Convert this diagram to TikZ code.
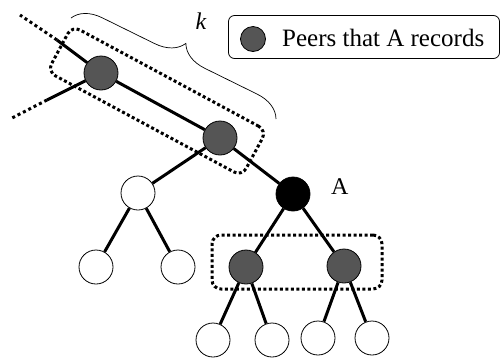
\documentclass[tikz,border=0pt]{standalone}
\usepackage{fontspec}
\setmainfont{Liberation Serif}
\usetikzlibrary{decorations.pathreplacing}
\definecolor{peer}{RGB}{85,85,85}
\begin{document}
\begin{tikzpicture}[x=1pt,y=-1pt,
  peernode/.style={circle,draw,line width=0.8pt,minimum size=34pt,inner sep=0pt},
  rec/.style={peernode,fill=peer},
  plain/.style={peernode,fill=white},
  self/.style={peernode,fill=black},
  link/.style={line width=3pt},
  ext/.style={line width=3pt,dash pattern=on 3pt off 3pt},
  group/.style={draw,line width=3pt,dash pattern=on 3pt off 2.5pt,rounded corners=9pt,inner sep=0pt},
  lbl/.style={font=\fontsize{24}{28}\selectfont,inner sep=0pt}]
\useasboundingbox (0,0) rectangle (502,360);

% tree nodes
\node[rec]   (g1) at (101,73)  {};
\node[rec]   (g2) at (220,138) {};
\node[plain] (w1) at (138,193) {};
\node[self]  (a)  at (293,194) {};
\node[plain] (w2) at (96,267)  {};
\node[plain] (w3) at (178,267) {};
\node[rec]   (g3) at (246,267) {};
\node[rec]   (g4) at (344,266) {};
\node[plain] (l1) at (213,340) {};
\node[plain] (l2) at (272,340) {};
\node[plain] (l3) at (318,338) {};
\node[plain] (l4) at (372,338) {};
\node[lbl,anchor=west] (alabel) at (331,187) {A};

% links going on beyond the drawn part of the tree
\coordinate (u1) at (57,40);
\coordinate (u0) at (20,15);
\coordinate (d1) at (47,100);
\coordinate (d0) at (12,118);
\draw[link] (g1) -- (u1);
\draw[ext]  (u1) -- (u0);
\draw[link] (g1) -- (d1);
\draw[ext]  (d1) -- (d0);

% tree links
\draw[link] (g1) -- (g2);
\draw[link] (g2) -- (w1);
\draw[link] (g2) -- (a);
\draw[link] (w1) -- (w2);
\draw[link] (w1) -- (w3);
\draw[link] (a) -- (g3);
\draw[link] (a) -- (g4);
\draw[link] (g3) -- (l1);
\draw[link] (g3) -- (l2);
\draw[link] (g4) -- (l3);
\draw[link] (g4) -- (l4);

% recorded groups
\node[group,minimum width=221pt,minimum height=52pt,rotate=-28.3] (box1) at (157,101) {};
\node[group,minimum width=170pt,minimum height=54pt] (box2) at (297,262) {};

% brace with its label
\coordinate (b1) at (71,18);
\coordinate (b2) at (276,119);
\draw[decorate,decoration={brace,amplitude=28pt},line width=0.7pt] (b1) -- (b2);
\node[lbl] (klabel) at (201,21) {\itshape k};

% legend
\node[draw,rounded corners=6pt,line width=0.8pt,minimum width=271pt,minimum height=43pt] (legend) at (364,37) {};
\node[rec,minimum size=25pt] (lgdot) at (253,39) {};
\node[lbl,anchor=west,font=\fontsize{25}{30}\selectfont] (lgtext) at (282,38) {Peers that A records};
\end{tikzpicture}
\end{document}
